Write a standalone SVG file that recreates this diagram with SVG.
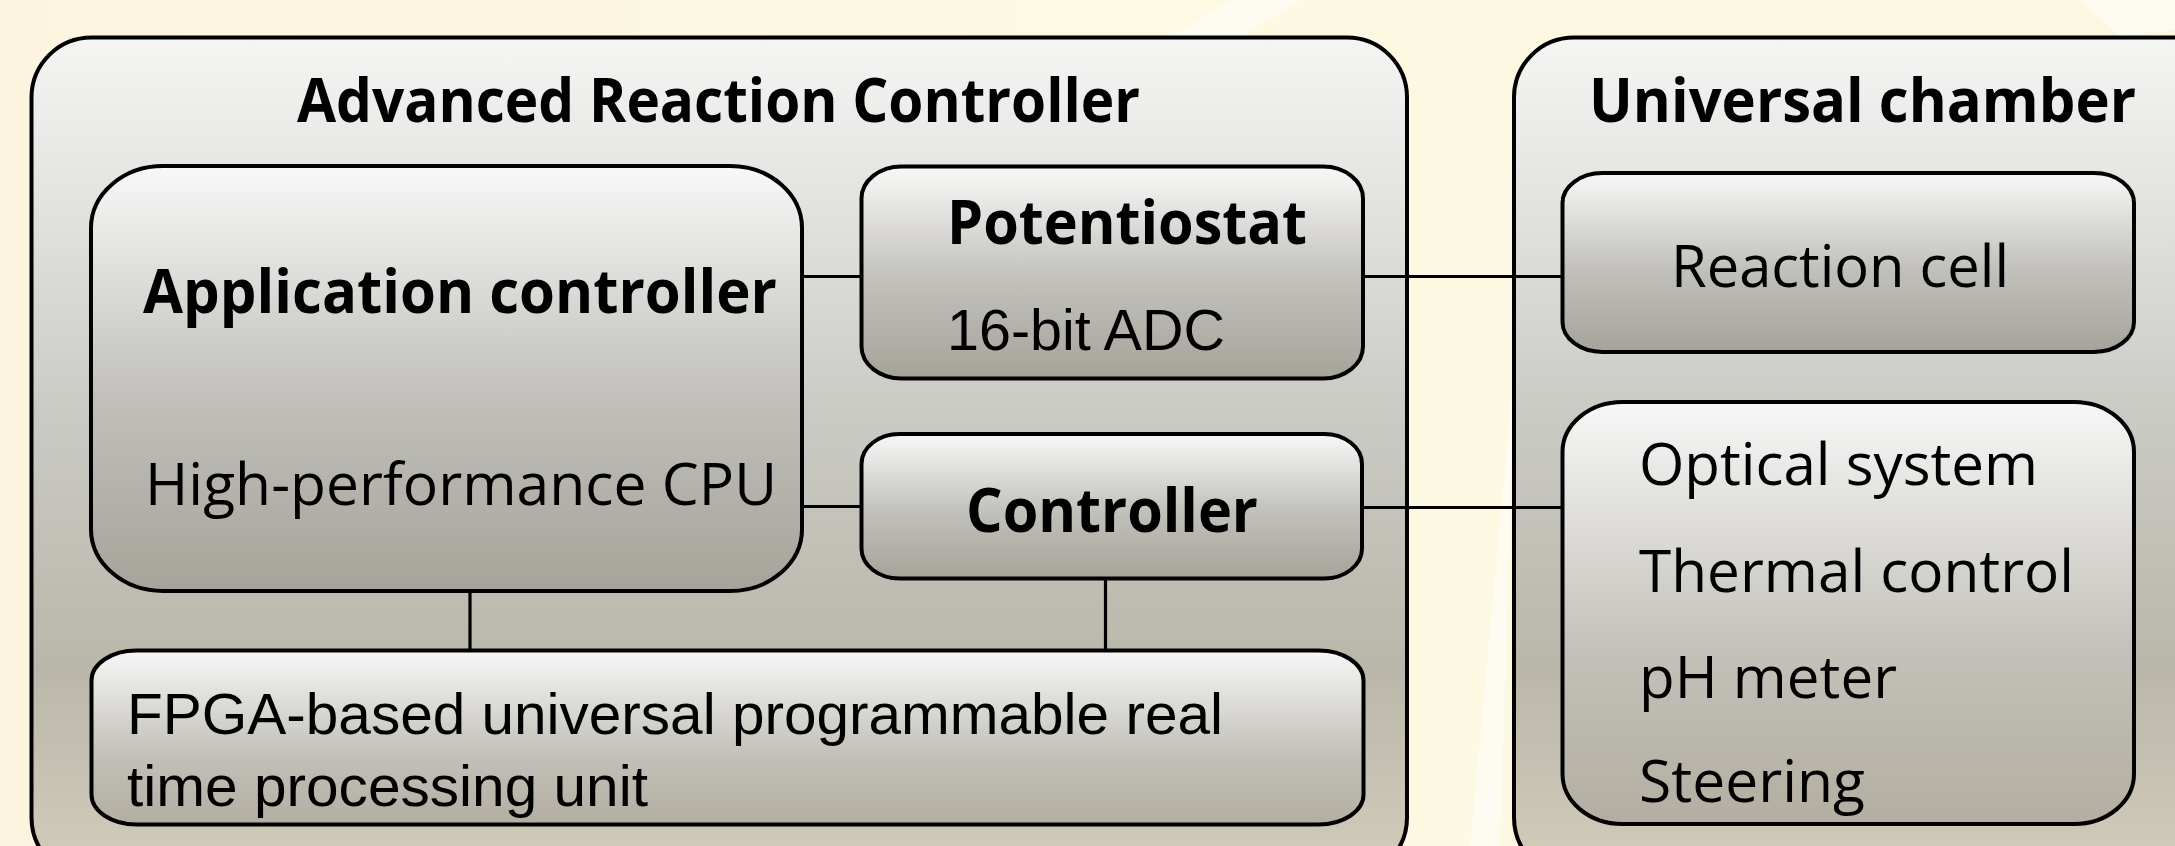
<svg xmlns="http://www.w3.org/2000/svg" width="2175" height="846" viewBox="0 0 2175 846">
  <defs>
    <linearGradient id="bgGrad" x1="0" y1="0" x2="1" y2="0">
      <stop offset="0" stop-color="#fcf4df"/>
      <stop offset="0.5" stop-color="#fdf9e3"/>
      <stop offset="1" stop-color="#fbf7e0"/>
    </linearGradient>
    <linearGradient id="outerGrad" x1="0" y1="0" x2="0" y2="1">
      <stop offset="0" stop-color="#f5f5f4"/>
      <stop offset="0.45" stop-color="#cacac5"/>
      <stop offset="0.75" stop-color="#bab7aa"/>
      <stop offset="1" stop-color="#d3ccba"/>
    </linearGradient>
    <linearGradient id="innerGrad" x1="0" y1="0" x2="0" y2="1">
      <stop offset="0" stop-color="#f8f8f8"/>
      <stop offset="0.55" stop-color="#c0bfba"/>
      <stop offset="1" stop-color="#a6a39a"/>
    </linearGradient>
    <linearGradient id="lowGrad" x1="0" y1="0" x2="0" y2="1">
      <stop offset="0" stop-color="#f7f7f7"/>
      <stop offset="0.6" stop-color="#c2c0b8"/>
      <stop offset="1" stop-color="#b3aea1"/>
    </linearGradient>
    <style>
      .box { stroke: #000; stroke-width: 4; }
      .outer { fill: url(#outerGrad); }
      .inner { fill: url(#innerGrad); }
      .low { fill: url(#lowGrad); }
      .bold { font-family: "Open Sans", "Noto Sans", sans-serif; font-weight: bold; font-size: 61px; fill: #000; }
      .reg { font-family: "Open Sans", "Noto Sans", sans-serif; font-size: 59px; fill: #000; }
      .arial { font-family: "Liberation Sans", Arial, sans-serif; font-size: 58px; fill: #000; }
      .conn { stroke: #000; stroke-width: 3.2; fill: none; }
      .streak { fill: #ffffff; opacity: 0.55; }
    </style>
  </defs>

  <rect x="0" y="0" width="2175" height="846" fill="url(#bgGrad)"/>
  <polygon class="streak" points="1230,0 1300,0 1240,37 1170,37"/>
  <polygon class="streak" points="1470,846 1500,846 1513,420 1513,380"/>
  <polygon class="streak" points="2080,0 2175,0 2175,30 2120,37"/>

  <g id="advanced-reaction-controller">
    <rect class="box outer" x="31.5" y="37.5" width="1375.5" height="840" rx="60" ry="60"/>
    <text class="bold" x="297" y="122" textLength="843" lengthAdjust="spacingAndGlyphs">Advanced Reaction Controller</text>
  </g>

  <g id="universal-chamber">
    <rect class="box outer" x="1514" y="37.5" width="720" height="840" rx="60" ry="60"/>
    <text class="bold" x="1589" y="122" textLength="547" lengthAdjust="spacingAndGlyphs">Universal chamber</text>
  </g>

  <g id="application-controller">
    <rect class="box inner" x="91" y="166" width="711" height="425" rx="72" ry="62"/>
    <text class="bold" x="143" y="313" textLength="634" lengthAdjust="spacingAndGlyphs">Application controller</text>
    <text class="reg" x="145" y="505" textLength="632" lengthAdjust="spacingAndGlyphs">High-performance CPU</text>
  </g>

  <g id="potentiostat">
    <rect class="box inner" x="861.5" y="166.5" width="501.5" height="212" rx="40" ry="32"/>
    <text class="bold" x="947" y="244" textLength="360" lengthAdjust="spacingAndGlyphs">Potentiostat</text>
    <text class="arial" x="947" y="350" textLength="278" lengthAdjust="spacingAndGlyphs">16-bit ADC</text>
  </g>

  <g id="controller">
    <rect class="box inner" x="861.5" y="434" width="500.5" height="144.5" rx="38" ry="30"/>
    <text class="bold" x="966" y="532" textLength="292" lengthAdjust="spacingAndGlyphs">Controller</text>
  </g>

  <g id="fpga-unit">
    <rect class="box low" x="91.5" y="650.5" width="1272" height="174" rx="45" ry="30"/>
    <text class="arial" x="127" y="734" textLength="1096" lengthAdjust="spacingAndGlyphs">FPGA-based universal programmable real</text>
    <text class="arial" x="127" y="806" textLength="521" lengthAdjust="spacingAndGlyphs">time processing unit</text>
  </g>

  <g id="reaction-cell">
    <rect class="box inner" x="1562.5" y="173" width="571.5" height="179" rx="40" ry="30"/>
    <text class="reg" x="1671" y="287" textLength="338" lengthAdjust="spacingAndGlyphs">Reaction cell</text>
  </g>

  <g id="chamber-systems">
    <rect class="box low" x="1562.5" y="402" width="571.5" height="422" rx="60" ry="50"/>
    <text class="reg" x="1639" y="485" textLength="399" lengthAdjust="spacingAndGlyphs">Optical system</text>
    <text class="reg" x="1639" y="592" textLength="435" lengthAdjust="spacingAndGlyphs">Thermal control</text>
    <text class="reg" x="1639" y="698" textLength="258" lengthAdjust="spacingAndGlyphs">pH meter</text>
    <text class="reg" x="1639" y="802" textLength="226" lengthAdjust="spacingAndGlyphs">Steering</text>
  </g>

  <g id="connectors">
    <line class="conn" x1="802" y1="276.5" x2="861.5" y2="276.5"/>
    <line class="conn" x1="802" y1="506.5" x2="861.5" y2="506.5"/>
    <line class="conn" x1="470" y1="591" x2="470" y2="650.5"/>
    <line class="conn" x1="1105.5" y1="578.5" x2="1105.5" y2="650.5"/>
    <line class="conn" x1="1363" y1="276.5" x2="1562.5" y2="276.5"/>
    <line class="conn" x1="1362" y1="507.5" x2="1562.5" y2="507.5"/>
  </g>
</svg>
